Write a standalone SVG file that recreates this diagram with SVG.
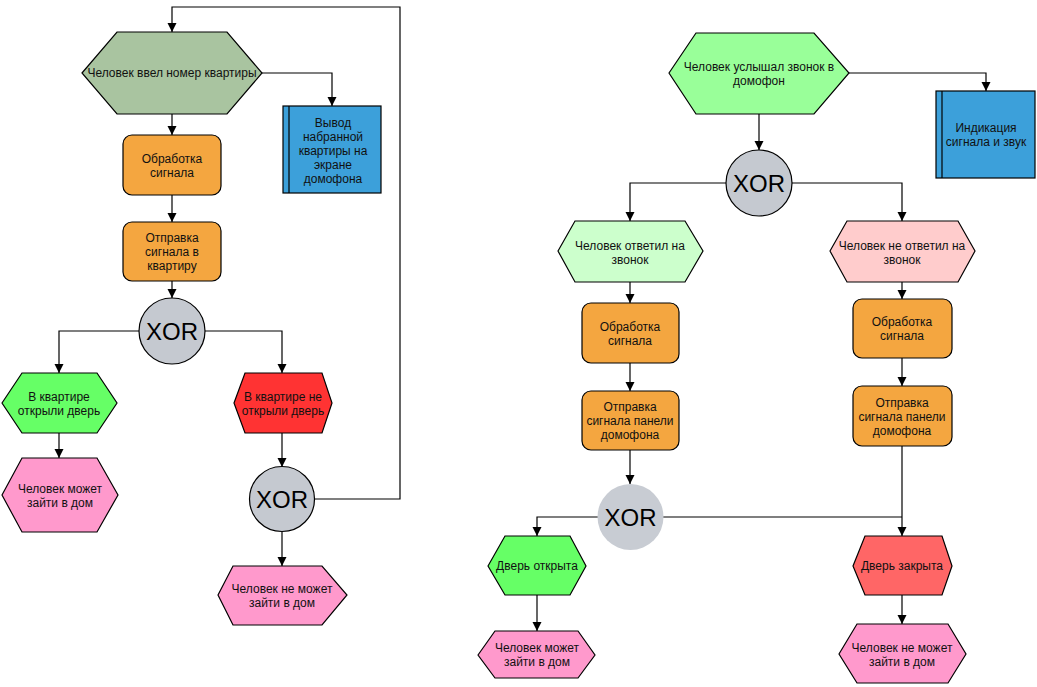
<svg xmlns="http://www.w3.org/2000/svg" width="1037" height="687" viewBox="0 0 1037 687">
<defs>
<marker id="arr" markerUnits="userSpaceOnUse" markerWidth="10" markerHeight="10" refX="9" refY="4.5" orient="auto">
<path d="M0,0 L9,4.5 L0,9 z" fill="#000"/>
</marker>
<style>
.t{font-family:"Liberation Sans",Arial,sans-serif;font-size:12px;fill:#111;text-anchor:middle}
.x{font-family:"Liberation Sans",Arial,sans-serif;font-size:24px;fill:#000;text-anchor:middle}
.s{stroke:#000;stroke-width:1.2}
.c{fill:none;stroke:#000;stroke-width:1.2}
.a{marker-end:url(#arr)}
</style>
</defs>
<rect width="1037" height="687" fill="#fff"/>
<g id="connectors">
<polyline class="c a" points="315,499 400,499 400,7 172,7 172,32"/>
<polyline class="c a" points="262,73 332,73 332,106"/>
<polyline class="c a" points="172,114 172,135"/>
<polyline class="c a" points="172,195 172,222"/>
<polyline class="c a" points="172,281 172,298"/>
<polyline class="c a" points="139,331 59,331 59,373"/>
<polyline class="c a" points="205,331 282,331 282,373"/>
<polyline class="c a" points="59,433 59,458"/>
<polyline class="c a" points="282,433 282,467"/>
<polyline class="c a" points="282,532 282,566"/>
<polyline class="c a" points="849,73 986,73 986,91"/>
<polyline class="c a" points="759,114 759,150"/>
<polyline class="c a" points="726,183 630,183 630,221"/>
<polyline class="c a" points="792,183 902,183 902,221"/>
<polyline class="c a" points="630,282 630,303"/>
<polyline class="c a" points="902,282 902,299"/>
<polyline class="c a" points="630,363 630,391"/>
<polyline class="c a" points="902,358 902,386"/>
<polyline class="c a" points="630,450 630,484"/>
<polyline class="c a" points="598,517 537,517 537,536"/>
<polyline class="c" points="663,517 902,517"/>
<polyline class="c a" points="902,446 902,536"/>
<polyline class="c a" points="537,595 537,631"/>
<polyline class="c a" points="902,595 902,624"/>
</g>
<g id="ev1">
<polygon class="s" fill="#A9C4A0" points="82,73 117,32 227,32 262,73 227,114 117,114"/>
<text class="t" x="172" y="77">Человек ввел номер квартиры</text>
</g>
<g id="sys1">
<rect class="s" fill="#3CA0DA" x="283" y="106" width="98" height="87"/>
<line class="s" x1="289" y1="106" x2="289" y2="193"/>
<text class="t" x="333"><tspan x="333" y="127">Вывод</tspan><tspan x="333" y="141">набранной</tspan><tspan x="333" y="155">квартиры на</tspan><tspan x="333" y="169">экране</tspan><tspan x="333" y="183">домофона</tspan></text>
</g>
<g id="fn1">
<rect class="s" fill="#F4A640" x="123" y="135" width="98" height="60" rx="9"/>
<text class="t"><tspan x="172" y="163">Обработка</tspan><tspan x="172" y="177">сигнала</tspan></text>
</g>
<g id="fn2">
<rect class="s" fill="#F4A640" x="123" y="222" width="98" height="59" rx="9"/>
<text class="t"><tspan x="172" y="242">Отправка</tspan><tspan x="172" y="256">сигнала в</tspan><tspan x="172" y="270">квартиру</tspan></text>
</g>
<g id="xor1">
<circle class="s" fill="#C5C9D0" cx="172" cy="331" r="33"/>
<text class="x" x="172" y="340">XOR</text>
</g>
<g id="ev2">
<polygon class="s" fill="#66FF66" points="2,403 22,373 97,373 117,403 97,433 22,433"/>
<text class="t"><tspan x="59" y="401">В квартире</tspan><tspan x="59" y="415">открыли дверь</tspan></text>
</g>
<g id="ev3">
<polygon class="s" fill="#FF3333" points="234,403 245,373 322,373 332,403 322,433 245,433"/>
<text class="t"><tspan x="283" y="401">В квартире не</tspan><tspan x="283" y="415">открыли дверь</tspan></text>
</g>
<g id="ev4">
<polygon class="s" fill="#FF99CC" points="2,495 22,458 97,458 118,495 97,532 22,532"/>
<text class="t"><tspan x="60" y="493">Человек может</tspan><tspan x="60" y="507">зайти в дом</tspan></text>
</g>
<g id="xor2">
<circle class="s" fill="#C5C9D0" cx="282" cy="499" r="32.5"/>
<text class="x" x="282" y="508">XOR</text>
</g>
<g id="ev5">
<polygon class="s" fill="#FF99CC" points="218,595 233,566 322,566 347,595 322,625 233,625"/>
<text class="t"><tspan x="282" y="593">Человек не может</tspan><tspan x="282" y="607">зайти в дом</tspan></text>
</g>
<g id="ev6">
<polygon class="s" fill="#99FF99" points="669,73 696,33 814,33 849,73 814,114 696,114"/>
<text class="t"><tspan x="759" y="71">Человек услышал звонок в</tspan><tspan x="759" y="85">домофон</tspan></text>
</g>
<g id="sys2">
<rect class="s" fill="#3CA0DA" x="936" y="91" width="99" height="87"/>
<line class="s" x1="942" y1="91" x2="942" y2="178"/>
<text class="t"><tspan x="986" y="132">Индикация</tspan><tspan x="986" y="146">сигнала и звук</tspan></text>
</g>
<g id="xor3">
<circle class="s" fill="#C5C9D0" cx="759" cy="183" r="33"/>
<text class="x" x="759" y="192">XOR</text>
</g>
<g id="ev7">
<polygon class="s" fill="#CCFFCC" points="558,251 575,221 685,221 703,251 685,282 575,282"/>
<text class="t"><tspan x="630" y="250">Человек ответил на</tspan><tspan x="630" y="264">звонок</tspan></text>
</g>
<g id="ev8">
<polygon class="s" fill="#FFCCCC" points="830,251 847,221 958,221 975,251 958,282 847,282"/>
<text class="t"><tspan x="902" y="250">Человек не ответил на</tspan><tspan x="902" y="264">звонок</tspan></text>
</g>
<g id="fn3">
<rect class="s" fill="#F4A640" x="582" y="303" width="97" height="60" rx="9"/>
<text class="t"><tspan x="630" y="331">Обработка</tspan><tspan x="630" y="345">сигнала</tspan></text>
</g>
<g id="fn4">
<rect class="s" fill="#F4A640" x="582" y="391" width="97" height="59" rx="9"/>
<text class="t"><tspan x="630" y="411">Отправка</tspan><tspan x="630" y="425">сигнала панели</tspan><tspan x="630" y="439">домофона</tspan></text>
</g>
<g id="fn5">
<rect class="s" fill="#F4A640" x="853" y="299" width="99" height="59" rx="9"/>
<text class="t"><tspan x="902" y="326">Обработка</tspan><tspan x="902" y="340">сигнала</tspan></text>
</g>
<g id="fn6">
<rect class="s" fill="#F4A640" x="853" y="386" width="99" height="60" rx="9"/>
<text class="t"><tspan x="902" y="407">Отправка</tspan><tspan x="902" y="421">сигнала панели</tspan><tspan x="902" y="435">домофона</tspan></text>
</g>
<g id="xor4">
<circle fill="#C8CCD3" cx="630.5" cy="517" r="33"/>
<text class="x" x="630.5" y="526">XOR</text>
</g>
<g id="ev9">
<polygon class="s" fill="#66FF66" points="488,566 505,536 570,536 586,566 570,595 505,595"/>
<text class="t" x="537" y="570">Дверь открыта</text>
</g>
<g id="ev10">
<polygon class="s" fill="#FF6666" points="853,566 865,536 942,536 952,566 942,595 865,595"/>
<text class="t" x="902" y="570">Дверь закрыта</text>
</g>
<g id="ev11">
<polygon class="s" fill="#FF99CC" points="478,655 495,631 578,631 595,655 578,678 495,678"/>
<text class="t"><tspan x="537" y="652">Человек может</tspan><tspan x="537" y="666">зайти в дом</tspan></text>
</g>
<g id="ev12">
<polygon class="s" fill="#FF99CC" points="839,654 857,624 948,624 966,654 948,683 857,683"/>
<text class="t"><tspan x="902" y="652">Человек не может</tspan><tspan x="902" y="666">зайти в дом</tspan></text>
</g>
</svg>
